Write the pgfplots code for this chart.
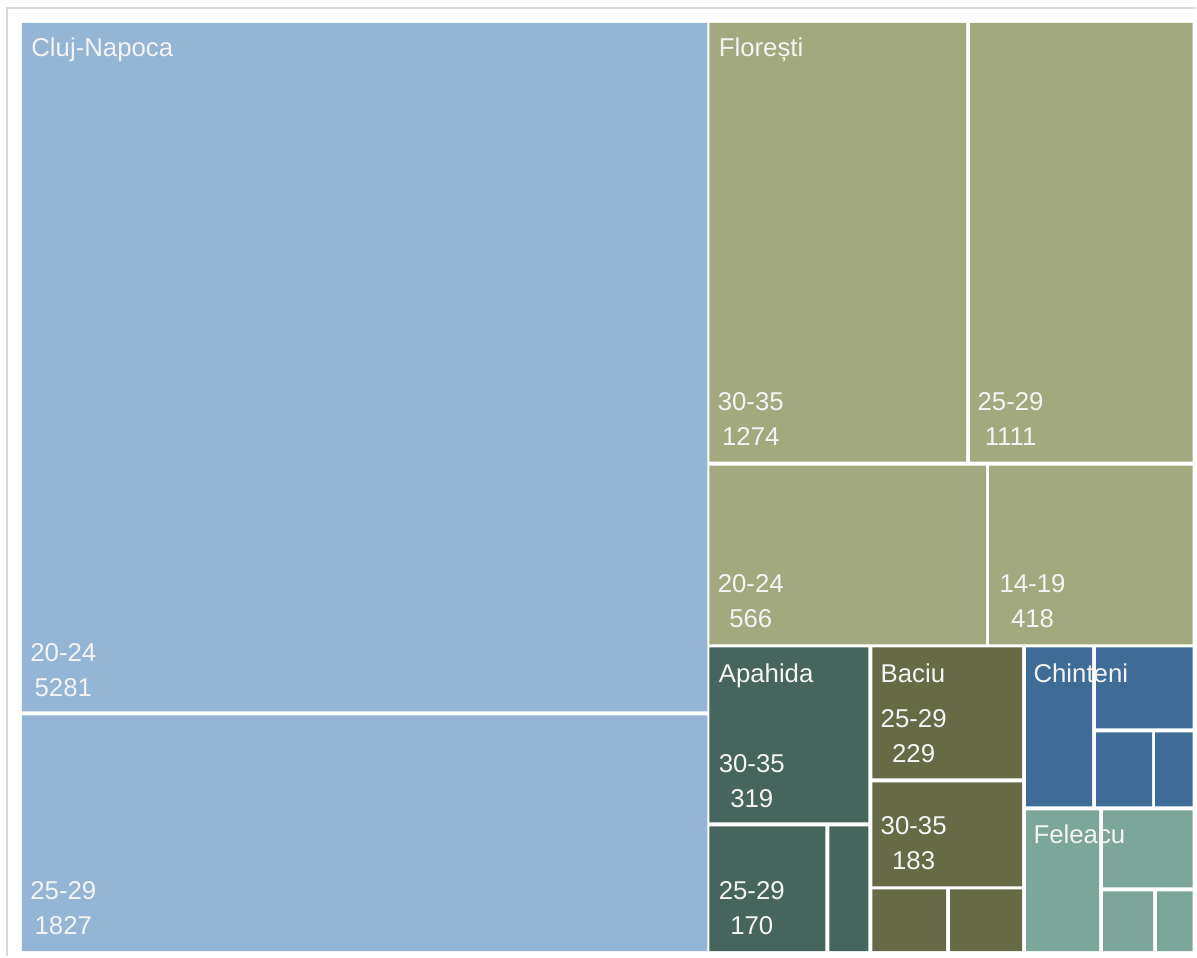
\documentclass[border=0pt]{standalone}
\usepackage{pgfplots}
\pgfplotsset{compat=1.18}
\usepackage{fontspec}
\setmainfont{Liberation Sans}

\definecolor{cluj}{HTML}{94B5D3}
\definecolor{flor}{HTML}{A3A97F}
\definecolor{apah}{HTML}{46665D}
\definecolor{baciu}{HTML}{666B46}
\definecolor{chint}{HTML}{3E6C97}
\definecolor{felea}{HTML}{7BA699}
\definecolor{lbl}{HTML}{F4F4F4}

% one tile: colour, x1, y1, x2, y2 (pixel units, y downwards)
\newcommand{\tile}[5]{\addplot[fill=#1, draw=none, forget plot] coordinates {(#2,#3) (#4,#3) (#4,#5) (#2,#5) (#2,#3)};}
% range label with the value centred under it
\newcommand{\leaf}[4]{\node[anchor=base west] (L) at (axis cs:#1,#2) {#3};
  \node[anchor=base, yshift=-17.5pt] at (L.base) {#4};}

\begin{document}
\begin{tikzpicture}
\begin{axis}[
    hide axis, scale only axis,
    width=598.5pt, height=478.5pt,
    xmin=0, xmax=1197, ymin=0, ymax=957,
    y dir=reverse, clip=false,
    nodes={inner sep=0pt, text=lbl, font=\fontsize{12.9}{15}\selectfont},
]
\fill[white] (axis cs:0,0) rectangle (axis cs:1197,957);
\draw[black!15, line width=1pt] (axis cs:7,957) -- (axis cs:7,8) -- (axis cs:1197,8);

% Cluj-Napoca
\tile{cluj}{22}{23}{708}{712}
\tile{cluj}{22}{716}{708}{952}
% Floresti
\tile{flor}{710}{23}{967}{462}
\tile{flor}{971}{23}{1193.5}{462}
\tile{flor}{710}{466}{987}{645}
\tile{flor}{990}{466}{1193.5}{645}
% Apahida
\tile{apah}{710}{648}{869}{823}
\tile{apah}{710}{827}{826}{952}
\tile{apah}{830}{827}{869}{952}
% Baciu
\tile{baciu}{873}{648}{1023}{779}
\tile{baciu}{873}{783}{1023}{887}
\tile{baciu}{873}{890}{947}{952}
\tile{baciu}{951}{890}{1023}{952}
% Chinteni
\tile{chint}{1027}{648}{1093}{807}
\tile{chint}{1097}{648}{1193.5}{729}
\tile{chint}{1097}{733}{1153}{807}
\tile{chint}{1156}{733}{1193.5}{807}
% Feleacu
\tile{felea}{1027}{811}{1100}{952}
\tile{felea}{1104}{811}{1193.5}{888}
\tile{felea}{1104}{892}{1154}{952}
\tile{felea}{1158}{892}{1193.5}{952}

% group names
\node[anchor=base west] at (axis cs:31,57) {Cluj-Napoca};
\node[anchor=base west] at (axis cs:719,57) {Florești};
\node[anchor=base west] at (axis cs:719,683) {Apahida};
\node[anchor=base west] at (axis cs:881,683) {Baciu};
\node[anchor=base west] at (axis cs:1034,683) {Chinteni};
\node[anchor=base west] at (axis cs:1034,844) {Feleacu};

% leaves
\leaf{30}{662}{20-24}{5281}
\leaf{30}{900}{25-29}{1827}
\leaf{718}{411}{30-35}{1274}
\leaf{978}{411}{25-29}{1111}
\leaf{718}{593}{20-24}{566}
\leaf{1000}{593}{14-19}{418}
\leaf{719}{773}{30-35}{319}
\leaf{719}{900}{25-29}{170}
\leaf{881}{728}{25-29}{229}
\leaf{881}{835}{30-35}{183}
\end{axis}
\end{tikzpicture}
\end{document}
